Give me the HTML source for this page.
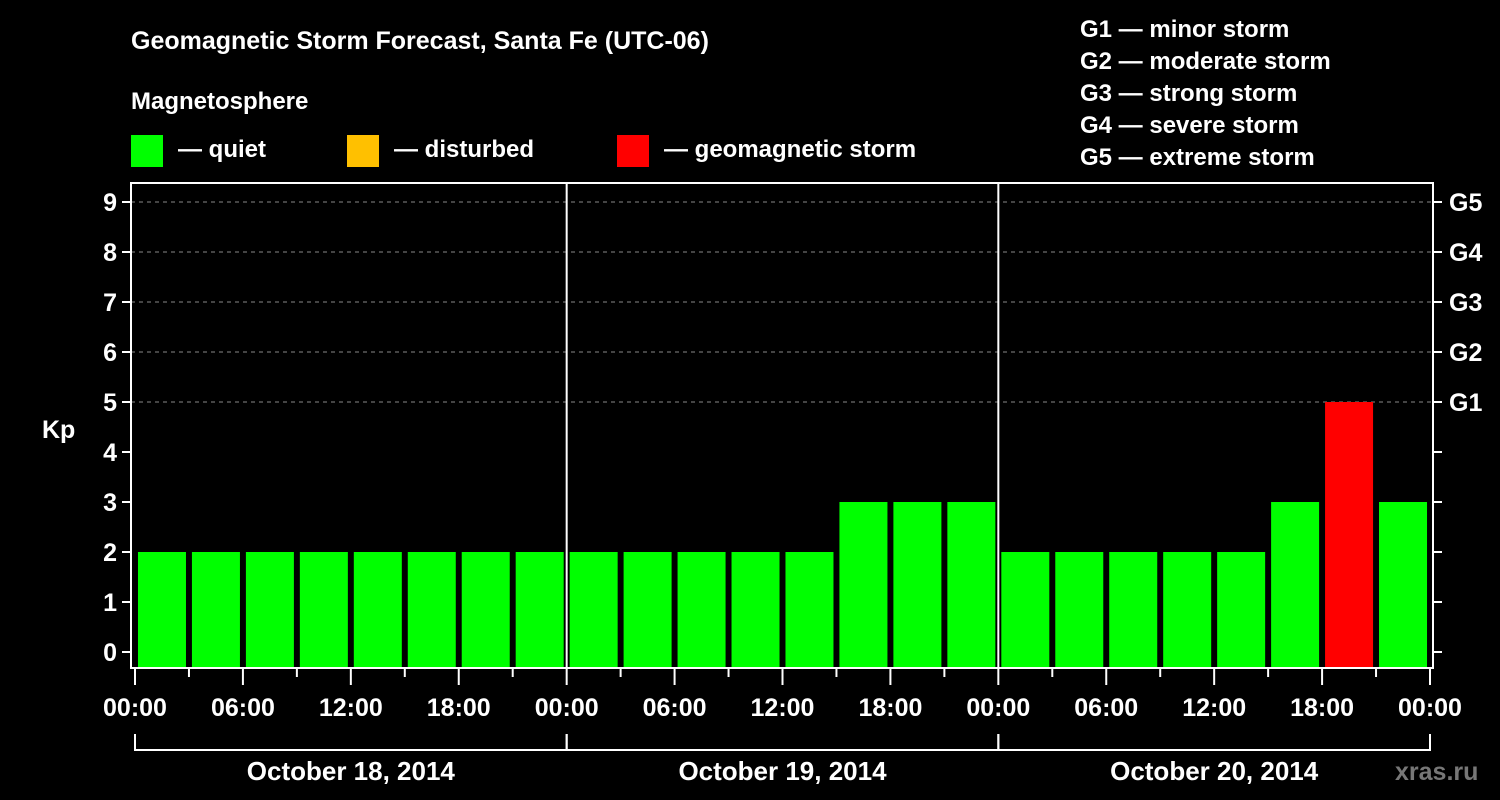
<!DOCTYPE html>
<html><head><meta charset="utf-8"><style>
html,body{margin:0;padding:0;background:#000;}
svg{display:block;font-family:"Liberation Sans",Arial,sans-serif;font-weight:bold;}
</style></head><body>
<svg id="chart" width="1500" height="800" viewBox="0 0 1500 800">
<rect width="1500" height="800" fill="#000"/>
<text x="131" y="49" fill="#fff" font-size="25">Geomagnetic Storm Forecast, Santa Fe (UTC-06)</text>
<text x="131" y="109" fill="#fff" font-size="24">Magnetosphere</text>
<g>
<rect x="131" y="135" width="32" height="32" fill="#00ff00"/>
<text x="178" y="157" fill="#fff" font-size="24">— quiet</text>
<rect x="347" y="135" width="32" height="32" fill="#ffc000"/>
<text x="394" y="157" fill="#fff" font-size="24">— disturbed</text>
<rect x="617" y="135" width="32" height="32" fill="#ff0000"/>
<text x="664" y="157" fill="#fff" font-size="24">— geomagnetic storm</text>
</g>
<g fill="#fff" font-size="24">
<text x="1080" y="37">G1 — minor storm</text>
<text x="1080" y="69">G2 — moderate storm</text>
<text x="1080" y="101">G3 — strong storm</text>
<text x="1080" y="133">G4 — severe storm</text>
<text x="1080" y="165">G5 — extreme storm</text>
</g>
<text x="1395" y="780" fill="#777" font-size="25">xras.ru</text>
<text x="42" y="438" fill="#fff" font-size="25">Kp</text>
<g id="plot"></g>
</svg>
<script>
const kpValues = [2,2,2,2,2,2,2,2, 2,2,2,2,2,3,3,3, 2,2,2,2,2,3,5,3];
const hourTickLabels = ["00:00","06:00","12:00","18:00","00:00","06:00","12:00","18:00","00:00","06:00","12:00","18:00","00:00"];
const dayLabels = ["October 18, 2014","October 19, 2014","October 20, 2014"];
const kpTicks = [0,1,2,3,4,5,6,7,8,9];
const gLabels = ["G1","G2","G3","G4","G5"];

const NS = "http://www.w3.org/2000/svg";
const plot = document.getElementById('plot');
const X0 = 135, X1 = 1430, L = 131, R = 1433, T = 183, B = 668;
const slot = (X1 - X0) / kpValues.length;
const xAt = i => X0 + i * slot;
const yAt = v => 652 - v * 50;
function mk(tag, attrs){ const e = document.createElementNS(NS, tag); for (const k in attrs) e.setAttribute(k, attrs[k]); plot.appendChild(e); return e; }
function color(v){ return v >= 5 ? "#ff0000" : (v >= 4 ? "#ffc000" : "#00ff00"); }

// grid lines
for (let v = 5; v <= 9; v++) {
  const g = mk('line', {x1: L, x2: R, y1: yAt(v), y2: yAt(v), stroke: "#888", 'stroke-dasharray': "4,4", 'stroke-width': 1});
  
  
}
// bars
kpValues.forEach((v, i) => {
  const c = xAt(i) + slot / 2;
  const r = mk('rect', {x: c - 24, y: yAt(v), width: 48, height: B - yAt(v), fill: color(v)});
  
  
});
// frame
const fr = mk('rect', {x: L, y: T, width: R - L, height: B - T, fill: "none", stroke: "#fff", 'stroke-width': 2});


// day separators
for (let d = 1; d < dayLabels.length; d++) {
  const x = xAt(d * 8);
  const s = mk('line', {x1: x, x2: x, y1: T, y2: B, stroke: "#fff", 'stroke-width': 2});
  
  
}
// y ticks
kpTicks.forEach(v => {
  const y = yAt(v);
  const t1 = mk('line', {x1: L - 9, x2: L, y1: y, y2: y, stroke: "#fff", 'stroke-width': 2});
  
  
  const t2 = mk('line', {x1: R, x2: R + 9, y1: y, y2: y, stroke: "#fff", 'stroke-width': 2});
  
  
  const tx = mk('text', {x: 117, y: y + 9, fill: "#fff", 'font-size': 25, 'text-anchor': "end"});
  tx.textContent = v;
  
  
});
gLabels.forEach((g, i) => {
  const tx = mk('text', {x: 1449, y: yAt(5 + i) + 9, fill: "#fff", 'font-size': 25});
  tx.textContent = g;
  
  
});
// x ticks
for (let i = 0; i <= kpValues.length; i++) {
  const major = i % 2 === 0;
  const t = mk('line', {x1: xAt(i), x2: xAt(i), y1: B, y2: B + (major ? 17 : 9), stroke: "#fff", 'stroke-width': 2});
  
  
}
hourTickLabels.forEach((lab, i) => {
  const tx = mk('text', {x: xAt(i * 2), y: 716, fill: "#fff", 'font-size': 25, 'text-anchor': "middle"});
  tx.textContent = lab;
  
  
});
// day brackets
dayLabels.forEach((lab, d) => {
  const a = xAt(d * 8), b = xAt(d * 8 + 8);
  const p = mk('path', {d: `M${a},734 V750 H${b} V734`, fill: "none", stroke: "#fff", 'stroke-width': 2});
  
  
  const tx = mk('text', {x: (a + b) / 2, y: 780, fill: "#fff", 'font-size': 26, 'text-anchor': "middle"});
  tx.textContent = lab;
  
  
});
</script>
</body></html>
